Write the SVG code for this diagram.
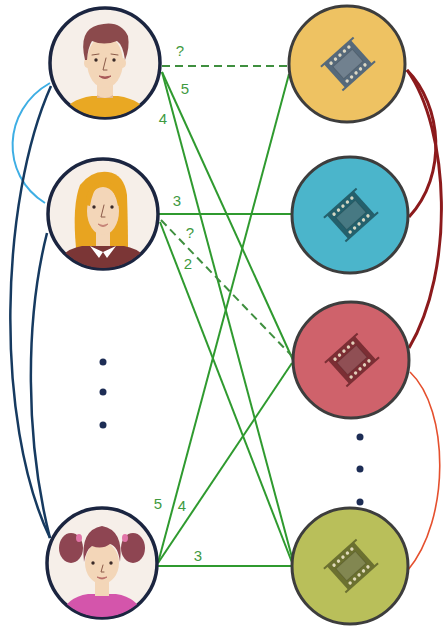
<svg xmlns="http://www.w3.org/2000/svg" width="446" height="626" viewBox="0 0 446 626">
  <style>
    .rate { stroke: #2f9a2f; stroke-width: 2; fill: none; }
    .unknown { stroke-dasharray: 8 5; stroke: #3f8f3f; }
    .lbl { font-family: "Liberation Sans", Arial, sans-serif; font-size: 15px; fill: #3f9a3f; text-anchor: middle; }
    .user-ring { fill: #f6efe9; stroke: #1b2540; stroke-width: 3.5; }
    .film-ring { stroke: #3d3d3d; stroke-width: 3; }
    .dot { fill: #1d2d55; }
    .skin { fill: #f3d6b8; }
    .eye { fill: #3a2a28; }
    .feature { fill: none; stroke: #8a5a48; stroke-width: 1; stroke-linecap: round; }
  </style>
  <defs>
    <g id="film-icon">
      <rect x="-18" y="-16" width="36" height="32" fill="currentColor"/>
      <line x1="-22" y1="-16" x2="22" y2="-16" stroke="currentColor" stroke-width="2"/>
      <line x1="-22" y1="16" x2="22" y2="16" stroke="currentColor" stroke-width="2"/>
      <rect x="-13" y="-8" width="26" height="16" fill="#ffffff" fill-opacity="0.16" stroke="#000" stroke-opacity="0.15" stroke-width="1"/>
      <g fill="#f4ecd2" fill-opacity="0.85">
        <circle cx="-12" cy="-12" r="1.7"/><circle cx="-6" cy="-12" r="1.7"/><circle cx="0" cy="-12" r="1.7"/><circle cx="6" cy="-12" r="1.7"/><circle cx="12" cy="-12" r="1.7"/>
        <circle cx="-12" cy="12" r="1.7"/><circle cx="-6" cy="12" r="1.7"/><circle cx="0" cy="12" r="1.7"/><circle cx="6" cy="12" r="1.7"/><circle cx="12" cy="12" r="1.7"/>
      </g>
    </g>
    <clipPath id="clip-man"><circle cx="105" cy="63" r="54"/></clipPath>
    <clipPath id="clip-woman"><circle cx="103" cy="214" r="54"/></clipPath>
    <clipPath id="clip-girl"><circle cx="102" cy="563" r="54"/></clipPath>
  </defs>

  <rect width="446" height="626" fill="#ffffff"/>

  <!-- links among users (left) and among films (right) -->
  <g id="similarity-links" fill="none">
    <path d="M50,83 C2,110 0,175 45,203" stroke="#3eaee4" stroke-width="2"/>
    <path d="M51,86 C0,200 -6,420 50,538" stroke="#163a60" stroke-width="2.5"/>
    <path d="M47,233 C25,320 25,440 50,538" stroke="#163a60" stroke-width="2.5"/>
    <path d="M407,70 C442,105 448,175 409,217" stroke="#8c1a1c" stroke-width="3"/>
    <path d="M407,70 C450,130 455,270 409,348" stroke="#8c1a1c" stroke-width="3"/>
    <path d="M410,372 C450,410 450,520 408,570" stroke="#e5502e" stroke-width="1.6"/>
  </g>

  <!-- ratings between users and films -->
  <g id="ratings">
    <line class="rate unknown" x1="162" y1="66" x2="290" y2="66"/>
    <line class="rate" x1="162" y1="72" x2="293" y2="360"/>
    <line class="rate" x1="162" y1="72" x2="294" y2="565"/>
    <line class="rate" x1="159" y1="214" x2="292" y2="214"/>
    <line class="rate unknown" x1="161" y1="220" x2="292" y2="356"/>
    <line class="rate" x1="160" y1="222" x2="293" y2="565"/>
    <line class="rate" x1="158" y1="563" x2="289" y2="74"/>
    <line class="rate" x1="158" y1="563" x2="292" y2="363"/>
    <line class="rate" x1="158" y1="566" x2="292" y2="566"/>
    <text class="lbl" x="180" y="56">?</text>
    <text class="lbl" x="185" y="94">5</text>
    <text class="lbl" x="163" y="124">4</text>
    <text class="lbl" x="177" y="206">3</text>
    <text class="lbl" x="190" y="238">?</text>
    <text class="lbl" x="188" y="269">2</text>
    <text class="lbl" x="158" y="509">5</text>
    <text class="lbl" x="182" y="511">4</text>
    <text class="lbl" x="198" y="561">3</text>
  </g>

  <!-- users -->
  <g id="user-man">
    <circle class="user-ring" cx="105" cy="63" r="55"/>
    <g clip-path="url(#clip-man)">
      <path d="M58,122 Q64,100 92,96 L118,96 Q146,100 152,122 Z" fill="#e9a823"/>
      <rect class="skin" x="97" y="80" width="16" height="18"/>
      <path d="M97,95 Q105,101 113,95 L113,98 L97,98 Z" fill="#e0b898"/>
      <ellipse class="skin" cx="87.5" cy="63" rx="3.5" ry="5"/>
      <ellipse class="skin" cx="122.5" cy="63" rx="3.5" ry="5"/>
      <ellipse class="skin" cx="105" cy="62" rx="18" ry="26"/>
      <path d="M85,60 Q78,30 98,25 Q120,19 128,36 Q130,48 125,60 Q123,45 117,41 Q104,46 92,41 Q88,47 87,60 Z" fill="#8b4a4c"/>
      <circle class="eye" cx="96" cy="60" r="1.7"/>
      <circle class="eye" cx="114" cy="60" r="1.7"/>
      <path class="feature" d="M92,55 L99,54 M111,54 L118,55"/>
      <path class="feature" d="M106,58 L103,70 L107,70"/>
      <path d="M99,76 Q105,81 111,76 Q105,78 99,76 Z" fill="#a85a58" stroke="#a85a58" stroke-width="1"/>
    </g>
  </g>

  <g id="user-woman">
    <circle class="user-ring" cx="103" cy="214" r="55"/>
    <g clip-path="url(#clip-woman)">
      <path d="M76,248 Q72,205 80,185 Q92,170 108,172 Q124,174 127,195 Q128,225 128,248 Z" fill="#e8a420"/>
      <path d="M52,275 Q58,250 82,246 L124,246 Q148,250 154,275 Z" fill="#7b3636"/>
      <rect class="skin" x="96" y="228" width="14" height="18"/>
      <path d="M90,246 L103,252 L99,258 Z M116,246 L103,252 L107,258 Z" fill="#ffffff"/>
      <ellipse class="skin" cx="103" cy="211" rx="16" ry="24"/>
      <path d="M86,205 Q86,184 100,182 Q92,192 90,206 Z" fill="#e8a420"/>
      <path d="M120,205 Q121,184 105,181 Q116,192 118,206 Z" fill="#e8a420"/>
      <circle class="eye" cx="94" cy="207" r="1.7"/>
      <circle class="eye" cx="112" cy="207" r="1.7"/>
      <path class="feature" d="M104,205 L101,217 L105,217"/>
      <path d="M98,224 Q103,227 108,224 Q103,229 98,224 Z" fill="#c07a70" stroke="#c07a70" stroke-width="0.8"/>
    </g>
  </g>

  <g id="user-girl">
    <circle class="user-ring" cx="102" cy="563" r="55"/>
    <g clip-path="url(#clip-girl)">
      <path d="M58,624 Q62,598 88,594 L116,594 Q142,598 146,624 Z" fill="#d455ab"/>
      <rect class="skin" x="95" y="580" width="14" height="16"/>
      <ellipse cx="71" cy="548" rx="12" ry="15" fill="#8e4552"/>
      <ellipse cx="133" cy="548" rx="12" ry="15" fill="#8e4552"/>
      <ellipse class="skin" cx="102" cy="563" rx="17" ry="21"/>
      <path d="M84,562 Q80,530 102,526 Q124,530 120,562 Q118,546 110,544 Q102,550 92,546 Q86,550 84,562 Z" fill="#8e4552"/>
      <ellipse cx="79" cy="538" rx="3" ry="4" fill="#e275a8"/>
      <ellipse cx="125" cy="538" rx="3" ry="4" fill="#e275a8"/>
      <circle class="eye" cx="93" cy="563" r="1.7"/>
      <circle class="eye" cx="111" cy="563" r="1.7"/>
      <path class="feature" d="M103,565 L101,572 L104,572"/>
      <path d="M97,577 Q102,581 107,577 Q102,579 97,577 Z" fill="#b86a66" stroke="#b86a66" stroke-width="0.8"/>
    </g>
  </g>

  <g id="users-more">
    <circle class="dot" cx="103" cy="362" r="3.5"/>
    <circle class="dot" cx="103" cy="392" r="3.5"/>
    <circle class="dot" cx="103" cy="425" r="3.5"/>
  </g>

  <!-- films -->
  <g id="film-yellow">
    <circle class="film-ring" cx="347" cy="64" r="58" fill="#eec262"/>
    <use href="#film-icon" transform="translate(348,64) rotate(-42)" color="#56697a"/>
  </g>
  <g id="film-blue">
    <circle class="film-ring" cx="350" cy="215" r="58" fill="#4bb5cb"/>
    <use href="#film-icon" transform="translate(351,215) rotate(-42)" color="#24606c"/>
  </g>
  <g id="film-red">
    <circle class="film-ring" cx="351" cy="360" r="58" fill="#cf626b"/>
    <use href="#film-icon" transform="translate(352,360) rotate(-42)" color="#7b2e34"/>
  </g>
  <g id="film-green">
    <circle class="film-ring" cx="350" cy="566" r="58" fill="#b9bf5a"/>
    <use href="#film-icon" transform="translate(351,566) rotate(-42)" color="#6b7030"/>
  </g>

  <g id="films-more">
    <circle class="dot" cx="360" cy="437" r="3.5"/>
    <circle class="dot" cx="360" cy="469" r="3.5"/>
    <circle class="dot" cx="360" cy="502" r="3.5"/>
  </g>
</svg>
